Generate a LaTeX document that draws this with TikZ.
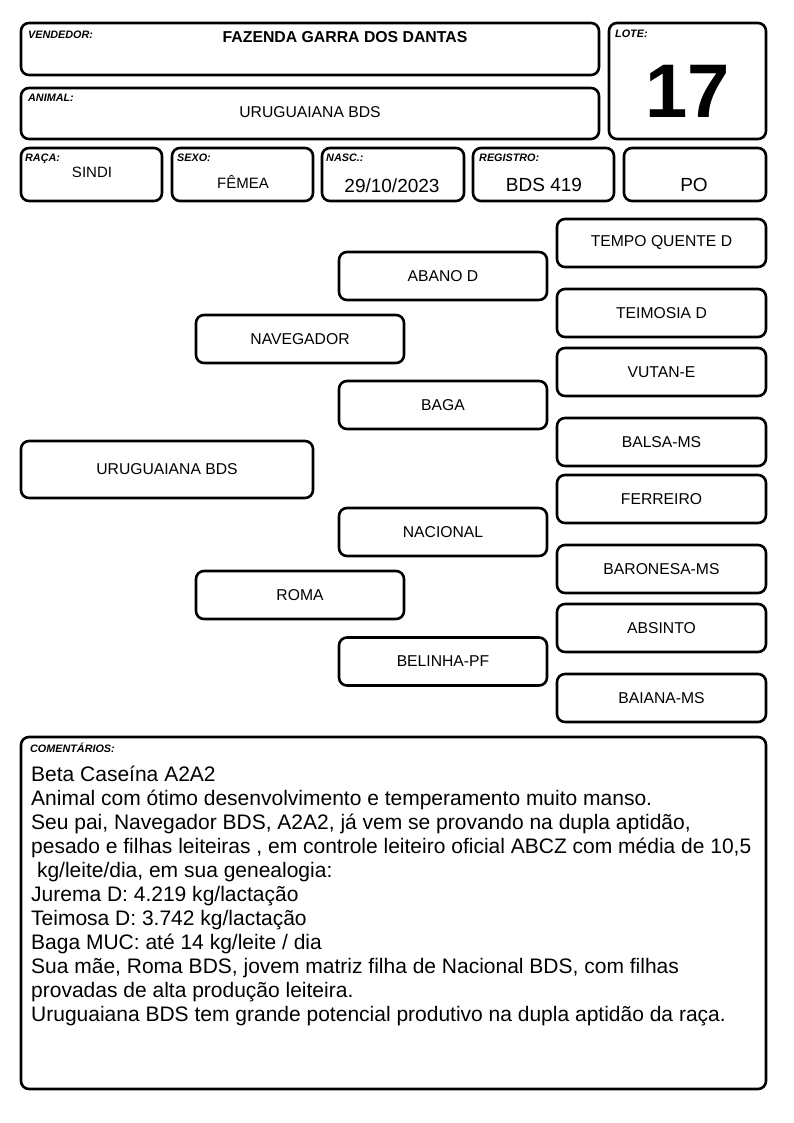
\documentclass[tikz,border=0pt]{standalone}
\usepackage{fontspec}
\setmainfont{Liberation Sans}
\begin{document}
\begin{tikzpicture}[x=1pt,y=-1pt,
  box/.style={draw, line width=2.6pt, rounded corners=8pt, inner sep=0pt},
  lbl/.style={anchor=base west, inner sep=0pt, font=\fontsize{10.8}{12}\selectfont\bfseries\itshape},
  val/.style={anchor=base, inner sep=0pt, font=\fontsize{15}{18}\selectfont},
  big/.style={anchor=base, inner sep=0pt, font=\fontsize{19}{22}\selectfont},
  ped/.style={box, font=\fontsize{15.7}{18}\selectfont, minimum height=48pt},
  cmt/.style={anchor=base west, inner sep=0pt, font=\fontsize{21}{24}\selectfont}]
\useasboundingbox (0,0) rectangle (794,1123);
% header boxes
\node[box, minimum width=578pt, minimum height=52pt] (vend) at (310,49) {};
\node[box, minimum width=157pt, minimum height=116pt] (lote) at (687.5,81) {};
\node[box, minimum width=578pt, minimum height=51pt] (anim) at (310,113.5) {};
\node[box, minimum width=141pt, minimum height=53pt] (raca) at (91.5,174.5) {};
\node[box, minimum width=141pt, minimum height=53pt] (sexo) at (242.5,174.5) {};
\node[box, minimum width=142pt, minimum height=53pt] (nasc) at (393,174.5) {};
\node[box, minimum width=141pt, minimum height=53pt] (regi) at (543.5,174.5) {};
\node[box, minimum width=142pt, minimum height=53pt] (po) at (695,174.5) {};
% labels
\node[lbl] (lvend) at (28,39) {VENDEDOR:};
\node[lbl] (llote) at (615,38) {LOTE:};
\node[lbl] (lanim) at (28,102) {ANIMAL:};
\node[lbl] (lraca) at (25,162) {RAÇA:};
\node[lbl] (lsexo) at (177,162) {SEXO:};
\node[lbl] (lnasc) at (326,162) {NASC.:};
\node[lbl] (lregi) at (479,162) {REGISTRO:};
% values
\node[val, font=\fontsize{15.8}{18}\selectfont\bfseries] (tvend) at (345,43) {FAZENDA GARRA DOS DANTAS};
\node[anchor=base, inner sep=0pt, font=\fontsize{76}{80}\selectfont\bfseries] (tlote) at (688,118) {17};
\node[val, font=\fontsize{15.7}{18}\selectfont] (tanim) at (310,118) {URUGUAIANA BDS};
\node[val] (traca) at (92,178) {SINDI};
\node[val] (tsexo) at (243,189) {FÊMEA};
\node[big] (tnasc) at (392,193) {29/10/2023};
\node[big] (tregi) at (544,192) {BDS 419};
\node[big] (tpo) at (694,192) {PO};
% pedigree
\node[ped, minimum width=292pt, minimum height=57pt] (uru) at (167,469.5) {URUGUAIANA BDS};
\node[ped, minimum width=208pt] (nav) at (300,339) {NAVEGADOR};
\node[ped, minimum width=208pt] (roma) at (300,595) {ROMA};
\node[ped, minimum width=208pt] (abano) at (443,276) {ABANO D};
\node[ped, minimum width=208pt] (baga) at (443,405) {BAGA};
\node[ped, minimum width=208pt] (nacional) at (443,532) {NACIONAL};
\node[ped, minimum width=208pt] (belinha) at (443,661.5) {BELINHA-PF};
\node[ped, minimum width=209pt] (tempo) at (661.5,243) {TEMPO QUENTE D};
\node[ped, minimum width=209pt] (teimosia) at (661.5,313) {TEIMOSIA D};
\node[ped, minimum width=209pt] (vutan) at (661.5,372) {VUTAN-E};
\node[ped, minimum width=209pt] (balsa) at (661.5,442) {BALSA-MS};
\node[ped, minimum width=209pt] (ferreiro) at (661.5,499) {FERREIRO};
\node[ped, minimum width=209pt] (baronesa) at (661.5,569) {BARONESA-MS};
\node[ped, minimum width=209pt] (absinto) at (661.5,628) {ABSINTO};
\node[ped, minimum width=209pt] (baiana) at (661.5,698) {BAIANA-MS};
% comments
\node[box, minimum width=745pt, minimum height=352pt] (com) at (393.5,913) {};
\node[lbl] (lcom) at (30,752) {COMENTÁRIOS:};
\node[cmt] (c1) at (31,781) {Beta Caseína A2A2};
\node[cmt] (c2) at (31,805) {Animal com ótimo desenvolvimento e temperamento muito manso.};
\node[cmt] (c3) at (31,829) {Seu pai, Navegador BDS, A2A2, já vem se provando na dupla aptidão,};
\node[cmt] (c4) at (31,853) {pesado e filhas leiteiras , em controle leiteiro oficial ABCZ com média de 10,5};
\node[cmt] (c5) at (31,877) {\ kg/leite/dia, em sua genealogia:};
\node[cmt] (c6) at (31,901) {Jurema D: 4.219 kg/lactação};
\node[cmt] (c7) at (31,925) {Teimosa D: 3.742 kg/lactação};
\node[cmt] (c8) at (31,949) {Baga MUC: até 14 kg/leite / dia};
\node[cmt] (c9) at (31,973) {Sua mãe, Roma BDS, jovem matriz filha de Nacional BDS, com filhas};
\node[cmt] (c10) at (31,997) {provadas de alta produção leiteira.};
\node[cmt] (c11) at (31,1021) {Uruguaiana BDS tem grande potencial produtivo na dupla aptidão da raça.};
\end{tikzpicture}
\end{document}
